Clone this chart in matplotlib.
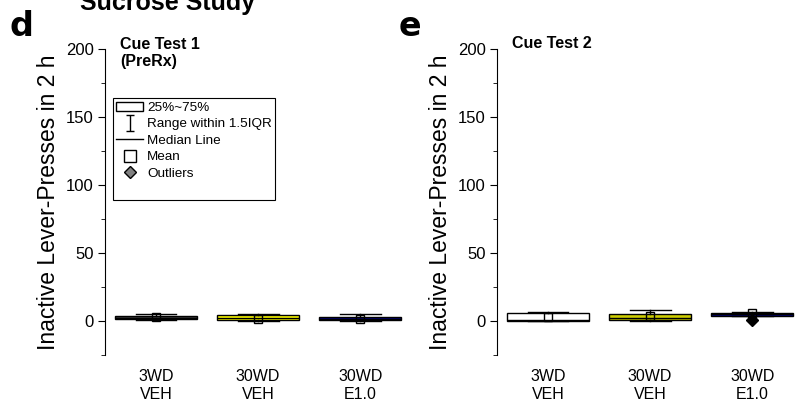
import matplotlib
matplotlib.use("Agg")
import matplotlib.pyplot as plt
from matplotlib.patches import Rectangle
from matplotlib.lines import Line2D
from matplotlib.legend_handler import HandlerErrorbar

plt.rcParams["font.family"] = ["Liberation Sans", "DejaVu Sans"]

groups = ["3WD\nVEH", "30WD\nVEH", "30WD\nE1.0"]

# Cue Test 1 (PreRx)
t1_q1 = [1.8, 0.5, 1.0]
t1_med = [2.5, 2.0, 1.8]
t1_q3 = [3.5, 4.2, 3.0]
t1_lo = [0.5, 0.0, 0.0]
t1_hi = [4.9, 4.9, 4.9]
t1_mean = [3.0, 1.8, 1.8]
t1_fliers = [[], [], []]
t1_colors = ["#3c3c3c", "#ffff00", "#000080"]

# Cue Test 2
t2_q1 = [0.0, 1.0, 4.0]
t2_med = [1.0, 2.5, 5.0]
t2_q3 = [5.9, 4.9, 5.9]
t2_lo = [0.0, 0.0, 4.0]
t2_hi = [6.4, 7.9, 6.4]
t2_mean = [2.7, 3.5, 5.6]
t2_fliers = [[], [], [0.5]]
t2_colors = ["#ffffff", "#cccc00", "#000080"]


def draw_panel(ax, q1, med, q3, lo, hi, mean, fliers, colors):
    stats = []
    for i in range(len(groups)):
        stats.append(dict(q1=q1[i], med=med[i], q3=q3[i], whislo=lo[i],
                          whishi=hi[i], mean=mean[i], fliers=fliers[i]))
    bp = ax.bxp(stats, positions=[1, 2, 3], widths=0.8, capwidths=0.4,
                patch_artist=True, showmeans=True,
                boxprops=dict(edgecolor="black", linewidth=1),
                medianprops=dict(color="black", linewidth=1),
                whiskerprops=dict(color="black", linewidth=1),
                capprops=dict(color="black", linewidth=1),
                meanprops=dict(marker="s", markerfacecolor="none",
                               markeredgecolor="black", markersize=6),
                flierprops=dict(marker="D", markerfacecolor="black",
                                markeredgecolor="black", markersize=6))
    for patch, c in zip(bp["boxes"], colors):
        patch.set_facecolor(c)

    ax.set_xlim(0.5, 3.47)
    ax.set_ylim(-25, 200)
    ax.set_yticks([0, 50, 100, 150, 200])
    ax.set_yticks([-25, 25, 75, 125, 175], minor=True)
    ax.set_xticks([1, 2, 3])
    ax.set_xticklabels(groups, fontsize=11.5, linespacing=1.25)
    ax.tick_params(axis="x", length=0, pad=10)
    ax.tick_params(axis="y", which="major", length=5, labelsize=12, pad=3)
    ax.tick_params(axis="y", which="minor", length=3)
    for s in ["top", "right", "bottom"]:
        ax.spines[s].set_visible(False)
    ax.set_ylabel("Inactive Lever-Presses in 2 h", fontsize=16.5, labelpad=4)


fig = plt.figure(figsize=(8, 4.09), dpi=100)
ax1 = fig.add_axes([0.13125, 0.132, 0.379, 0.7475])
ax2 = fig.add_axes([0.62125, 0.132, 0.379, 0.7475])

draw_panel(ax1, t1_q1, t1_med, t1_q3, t1_lo, t1_hi, t1_mean, t1_fliers, t1_colors)
draw_panel(ax2, t2_q1, t2_med, t2_q3, t2_lo, t2_hi, t2_mean, t2_fliers, t2_colors)

ax1.text(0.05, 1.04, "Cue Test 1\n(PreRx)", transform=ax1.transAxes,
         fontsize=11.5, fontweight="bold", va="top", ha="left", linespacing=1.2)
ax2.text(0.05, 1.045, "Cue Test 2", transform=ax2.transAxes,
         fontsize=11.5, fontweight="bold", va="top", ha="left")

fig.text(0.012, 0.975, "d", fontsize=24, fontweight="bold", va="top", ha="left",
         family="DejaVu Sans")
fig.text(0.498, 0.975, "e", fontsize=24, fontweight="bold", va="top", ha="left",
         family="DejaVu Sans")
fig.text(0.21, 0.975, "Sucrose Study", fontsize=18, fontweight="bold",
         va="baseline", ha="center")

# legend
eb = ax1.errorbar([float("nan")], [float("nan")], yerr=[1], fmt="none",
                  ecolor="black", elinewidth=1, capsize=3)
handles = [
    Rectangle((0, 0), 1, 1, facecolor="white", edgecolor="black", linewidth=1),
    eb,
    Line2D([], [], color="black", linewidth=1),
    Line2D([], [], marker="s", markerfacecolor="none", markeredgecolor="black",
           linestyle="none", markersize=8),
    Line2D([], [], marker="D", markerfacecolor="#808080", markeredgecolor="black",
           linestyle="none", markersize=6),
    Line2D([], [], linestyle="none"),
]
labels = ["25%~75%", "Range within 1.5IQR", "Median Line", "Mean", "Outliers", " "]
leg = ax1.legend(handles, labels, loc="upper left", bbox_to_anchor=(0.026, 0.84),
                 fontsize=9.7, frameon=True, fancybox=False, framealpha=1,
                 edgecolor="black", borderpad=0.25, labelspacing=0.3,
                 handlelength=2.0, handletextpad=0.3, borderaxespad=0,
                 handler_map={type(eb): HandlerErrorbar(xerr_size=0.4, yerr_size=0.6)})
leg.get_frame().set_linewidth(0.8)

fig.savefig("out.png", dpi=100)
